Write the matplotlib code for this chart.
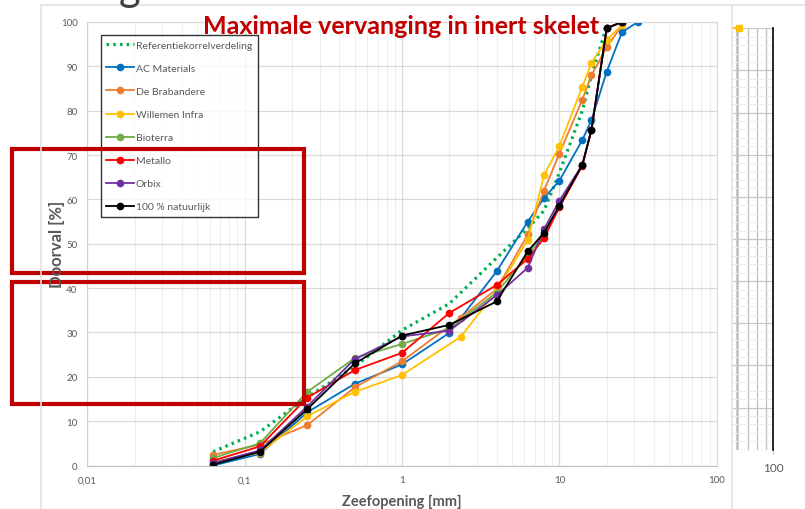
import numpy as np
import matplotlib.pyplot as plt
from matplotlib.patches import Rectangle
from matplotlib.lines import Line2D
from matplotlib.ticker import FixedLocator, NullFormatter

plt.rcParams['font.family'] = ['Lato', 'DejaVu Sans']

# sieve sizes [mm]
sieves = [0.063, 0.125, 0.25, 0.5, 1, 2, 4, 6.3, 8, 10, 14, 16, 20, 25, 31.5]
sieves_b = [0.063, 0.125, 0.25, 0.5, 1, 2.36, 4, 6.3, 8, 10, 14, 16, 20, 25]
sieves_ref = [0.063, 0.125, 0.25, 0.5, 1, 2, 4, 6.3, 8, 10, 14, 16, 20]

ref = [3.1, 7.6, 15.4, 22.3, 30.5, 36.5, 46.8, 53.5, 57.5, 66.0, 80.0, 88.0, 99.0]
ac_materials = [0.0, 2.6, 12.0, 18.4, 22.8, 29.9, 43.8, 55.0, 60.3, 64.2, 73.4, 77.9, 88.8, 97.7, 100]
de_brabandere = [2.4, 4.7, 9.1, 17.6, 23.5, 33.3, 39.8, 52.1, 62.0, 70.3, 82.5, 88.0, 94.3, 99.3]
willemen = [0.8, 2.9, 11.1, 16.6, 20.4, 29.0, 39.4, 50.9, 65.5, 72.0, 85.4, 90.8, 96.0, 99.3]
bioterra = [1.7, 5.0, 16.6, 24.2, 27.4, 30.9, 39.0, 47.5, 52.0, 58.5, 67.8, 75.7, 98.6, 100]
metallo = [1.1, 4.3, 15.3, 21.5, 25.4, 34.4, 40.7, 46.6, 51.3, 58.2, 67.6, 75.7, 98.6, 100]
orbix = [0.6, 3.4, 13.3, 24.0, 29.1, 30.4, 38.4, 44.6, 53.3, 59.7, 67.8, 75.7, 98.6, 100]
natuurlijk = [0.2, 3.1, 12.7, 23.0, 29.3, 31.7, 37.0, 48.3, 52.5, 58.6, 67.8, 75.7, 98.6, 100]

xtick_vals = [0.01, 0.1, 1, 10, 100]
xtick_labels = ["0,01", "0,1", "1", "10", "100"]
ytick_vals = [0, 10, 20, 30, 40, 50, 60, 70, 80, 90, 100]

# piece of the neighbouring chart on the right
side_x = [56, 62.4]
side_y = [100, 100]

GRAY = "#595959"

fig = plt.figure(figsize=(8.05, 5.1), dpi=100)
W, H = 805, 510

def fx(px):
    return px / W

def fy(py):
    return 1 - py / H

# chart frame lines (light gray)
fig.add_artist(Line2D([fx(40.7), fx(40.7)], [fy(5.7), 0], color="#e3e3e3", lw=1.2))
fig.add_artist(Line2D([fx(40.7), 1], [fy(5.7), fy(5.7)], color="#e3e3e3", lw=1.2))
fig.add_artist(Line2D([fx(732.3), fx(732.3)], [fy(5.7), 0], color="#e3e3e3", lw=1.2))

# heading above the chart, cut off by the top edge as in the slide
fig.text(fx(130), fy(1), "g", fontsize=30, color="#404040", ha="center", va="baseline")

ax = fig.add_axes([fx(87.3), fy(466.5), fx(716.7 - 87.3), (466.5 - 23) / H])
ax.set_xscale("log")
ax.set_xlim(0.01, 100)
ax.set_ylim(0, 100)

ax.plot(sieves_ref, ref, color="#00B050", lw=2.3, ls=(0, (0.8, 1.3)),
        label="Referentiekorrelverdeling")
series = [
    (sieves, ac_materials, "#0070C0", "AC Materials"),
    (sieves_b, de_brabandere, "#ED7D31", "De Brabandere"),
    (sieves_b, willemen, "#FFC000", "Willemen Infra"),
    (sieves[:-1], bioterra, "#70AD47", "Bioterra"),
    (sieves[:-1], metallo, "#FF0000", "Metallo"),
    (sieves[:-1], orbix, "#7030A0", "Orbix"),
    (sieves[:-1], natuurlijk, "#000000", "100 % natuurlijk"),
]
for xs, ys, c, name in series:
    ax.plot(xs, ys, color=c, lw=1.3, marker="o", ms=4.5, label=name)

ax.set_xticks(xtick_vals)
ax.set_xticklabels(xtick_labels)
ax.set_yticks(ytick_vals)
ax.tick_params(axis="both", which="both", length=0, labelsize=7, labelcolor=GRAY)
ax.tick_params(axis="x", pad=7)
ax.tick_params(axis="y", pad=7)
ax.grid(True, which="major", color="#d9d9d9", lw=0.9)
ax.grid(True, which="minor", axis="x", color="#ededed", lw=0.8)
ax.set_axisbelow(True)
for s in ax.spines.values():
    s.set_color("#d9d9d9")
ax.spines["bottom"].set_color("#bfbfbf")
ax.spines["left"].set_color("#d0d0d0")

ax.set_xlabel("Zeefopening [mm]", fontsize=10.5, fontweight="bold", color=GRAY, labelpad=7)
fig.text(fx(57), fy(244), "Doorval [%]", fontsize=12, fontweight="bold", color=GRAY,
         rotation=90, ha="center", va="center")

leg = ax.legend(loc="upper left", bbox_to_anchor=((100.7 - 87.3) / 629.4, (466.5 - 36) / 443.5),
                fontsize=7.5, frameon=True, fancybox=False, edgecolor="black",
                labelspacing=1.32, handlelength=2.6, handletextpad=0.2,
                borderpad=0.55, borderaxespad=0)
leg.get_frame().set_linewidth(1.0)
for t in leg.get_texts():
    t.set_color(GRAY)

fig.text(fx(401), fy(27), "Maximale vervanging in inert skelet", color="#C00000",
         fontsize=18, fontweight="bold", ha="center", va="center")

# neighbouring chart (cut off)
ax2 = fig.add_axes([fx(732.3), fy(450.7), fx(773.3 - 732.3), (450.7 - 29.3) / H])
ax2.set_xscale("log")
ax2.set_xlim(56.6, 100)
ax2.set_ylim(0, 100)
ax2.xaxis.set_major_locator(FixedLocator([100]))
ax2.set_xticklabels(["100"])
ax2.xaxis.set_minor_locator(FixedLocator([60, 70, 80, 90]))
ax2.xaxis.set_minor_formatter(NullFormatter())
ax2.yaxis.set_major_locator(FixedLocator(ytick_vals))
ax2.yaxis.set_minor_locator(FixedLocator(list(np.arange(0, 101, 2))))
ax2.set_yticklabels([])
ax2.grid(True, which="major", axis="y", color="#c8c8c8", lw=0.9)
ax2.grid(True, which="minor", axis="y", color="#ececec", lw=0.7)
ax2.grid(True, which="minor", axis="x", color="#bdbdbd", lw=0.9)
ax2.tick_params(axis="x", which="major", length=3, color="#bfbfbf", labelsize=8.5,
                labelcolor=GRAY, pad=6)
ax2.tick_params(axis="x", which="minor", length=0)
ax2.tick_params(axis="y", which="both", length=0)
for k in ["top", "left", "bottom"]:
    ax2.spines[k].set_visible(False)
ax2.spines["right"].set_color("black")
ax2.spines["right"].set_linewidth(1.2)
ax2.axvline(60, color="#c0c0c0", lw=1.8, zorder=0)
ax2.plot(side_x, side_y, color="#FFC000", lw=1.3, marker="s", ms=5,
         markevery=[1], clip_on=False)
ax2.set_axisbelow(True)

# red highlight boxes
for y0, y1 in [(149.5, 273.7), (283.0, 405.3)]:
    fig.add_artist(Rectangle((fx(12), fy(y1)), fx(303.5 - 12), (y1 - y0) / H,
                             fill=False, edgecolor="#C00000", lw=3.0))

fig.savefig("out.png", dpi=100)
